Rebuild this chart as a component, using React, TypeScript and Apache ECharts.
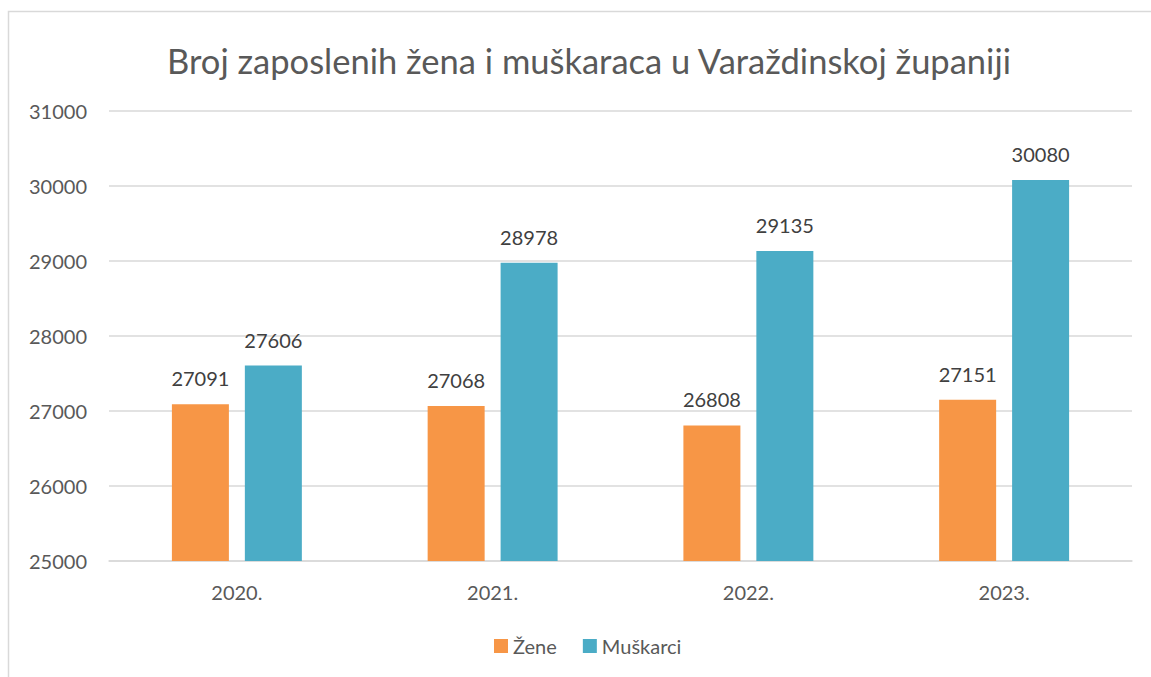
import React, { useEffect, useRef } from "react";
import * as echarts from "echarts";

const categories = ["2020.", "2021.", "2022.", "2023."];
const zene = [27091, 27068, 26808, 27151];
const muskarci = [27606, 28978, 29135, 30080];
const seriesNames = ["Žene", "Muškarci"];
const titleText = "Broj zaposlenih žena i muškaraca u Varaždinskoj županiji";

const FONT = "Lato, 'Open Sans', sans-serif";

export default function App() {
  const ref = useRef<HTMLDivElement>(null);
  useEffect(() => {
    if (!ref.current) return;
    const chart = echarts.init(ref.current, null, { renderer: "svg" });
    const labelStyle = {
      show: true,
      position: "top" as const,
      distance: 16,
      color: "#404040",
      fontSize: 20,
      fontFamily: FONT,
    };
    chart.setOption({
      animation: false,
      backgroundColor: "#ffffff",
      graphic: [
        {
          type: "rect",
          shape: { x: 8.5, y: 11.5, width: 1200, height: 700 },
          style: { fill: "none", stroke: "#d9d9d9", lineWidth: 1.5 },
          silent: true,
        },
      ],
      title: {
        text: titleText,
        left: 584,
        textAlign: "center",
        top: 38,
        textStyle: {
          color: "#595959",
          fontSize: 34.5,
          fontWeight: "normal",
          fontFamily: FONT,
        },
      },
      legend: {
        data: seriesNames,
        top: 631,
        left: 489,
        itemWidth: 14,
        itemHeight: 14,
        itemGap: 26,
        icon: "rect",
        textStyle: { color: "#595959", fontSize: 20, fontFamily: FONT },
      },
      grid: { left: 109, right: 19, top: 111, bottom: 116, containLabel: false },
      xAxis: {
        type: "category",
        data: categories,
        axisLine: { lineStyle: { color: "#d9d9d9", width: 1.5 } },
        axisTick: { show: false },
        axisLabel: { color: "#595959", fontSize: 20, fontFamily: FONT, margin: 21 },
      },
      yAxis: {
        type: "value",
        min: 25000,
        max: 31000,
        interval: 1000,
        axisLine: { show: false },
        axisTick: { show: false },
        splitLine: { lineStyle: { color: "#d9d9d9", width: 1.5 } },
        axisLabel: {
          color: "#595959",
          fontSize: 20,
          fontFamily: FONT,
          margin: 22,
          formatter: (v: number) => String(v),
        },
      },
      series: [
        {
          name: seriesNames[0],
          type: "bar",
          data: zene,
          barWidth: 57,
          barGap: "28%",
          itemStyle: { color: "#F79646" },
          label: labelStyle,
        },
        {
          name: seriesNames[1],
          type: "bar",
          data: muskarci,
          barWidth: 57,
          barGap: "28%",
          itemStyle: { color: "#4BACC6" },
          label: labelStyle,
        },
      ],
    });
    return () => chart.dispose();
  }, []);
  return (
    <div
      ref={ref}
      style={{ position: "fixed", left: 0, top: 0, width: 1151, height: 677 }}
    />
  );
}
